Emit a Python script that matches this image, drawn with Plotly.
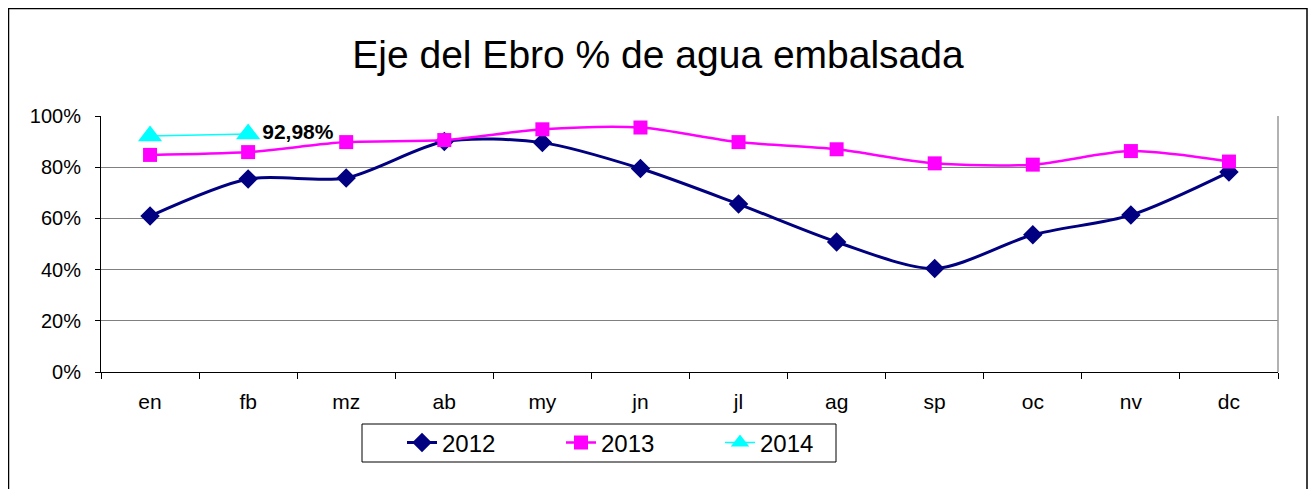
import plotly.graph_objects as go

# Months and reservoir levels (%)
months = ['en', 'fb', 'mz', 'ab', 'my', 'jn', 'jl', 'ag', 'sp', 'oc', 'nv', 'dc']
pct_2012 = [60.9, 75.4, 75.8, 90.0, 89.6, 79.5, 65.6, 50.8, 40.4, 53.6, 61.3, 78.1]
pct_2013 = [84.8, 85.9, 89.8, 90.6, 94.8, 95.5, 89.8, 87.0, 81.5, 81.0, 86.3, 82.2]
pct_2014 = [92.2, 92.98]
labels_2014 = ['', '92,98%']

FONT = 'Liberation Sans, Arial, sans-serif'

# the page body has an 8px margin, so the figure is shrunk and shifted by it
OFF = 8
W, H = 1316 - 2 * OFF, 497 - 2 * OFF
# plot area edges in screenshot px
L, R, T, B = 101, 1278, 116, 372
px_x = lambda p: (p - L) / (R - L)
px_y = lambda p: (B - p) / (B - T)

fig = go.Figure()

fig.add_trace(go.Scatter(
    x=months, y=pct_2012, name='2012', mode='lines+markers',
    line=dict(color='#000080', width=3, shape='spline', smoothing=0.8),
    marker=dict(symbol='diamond', size=15, color='#000080'),
))
fig.add_trace(go.Scatter(
    x=months, y=pct_2013, name='2013', mode='lines+markers',
    line=dict(color='#FF00FF', width=2.5, shape='spline', smoothing=0.8),
    marker=dict(symbol='square', size=14, color='#FF00FF'),
))
fig.add_trace(go.Scatter(
    x=months[:len(pct_2014)], y=pct_2014, name='2014', mode='lines+markers+text',
    line=dict(color='#00FFFF', width=1.5),
    marker=dict(symbol='triangle-up', size=21, color='#00FFFF'),
    text=labels_2014, textposition='middle right',
    textfont=dict(family=FONT, size=21, color='black', weight='bold'),
))

fig.update_layout(
    width=W, height=H,
    margin=dict(l=L - OFF, r=W - (R - OFF), t=T - OFF, b=H - (B - OFF)),
    paper_bgcolor='white', plot_bgcolor='white',
    font=dict(family=FONT, size=21, color='black'),
    title=dict(text='Eje del Ebro % de agua embalsada', x=0.5, xanchor='center',
               y=1 - (54 - OFF) / H, yanchor='middle',
               font=dict(family=FONT, size=39, color='black')),
    showlegend=True,
    legend=dict(orientation='h', x=px_x(402), xanchor='left',
                y=px_y(443), yanchor='middle',
                bgcolor='rgba(0,0,0,0)', borderwidth=0,
                font=dict(family=FONT, size=24),
                entrywidth=114, entrywidthmode='pixels',
                tracegroupgap=0),
    xaxis=dict(type='category', range=[-0.5, 11.5], showgrid=False,
               showline=True, linecolor='black', linewidth=1,
               ticks='outside', tickson='boundaries', ticklen=6,
               tickcolor='black', tickfont=dict(family=FONT, size=21),
               ticklabelstandoff=11),
    yaxis=dict(range=[0, 100], dtick=20, ticksuffix='%',
               showgrid=True, gridcolor='#808080', gridwidth=1,
               showline=True, linecolor='black', linewidth=1,
               ticks='outside', ticklen=5, tickcolor='black',
               tickfont=dict(family=FONT, size=20), zeroline=False,
               ticklabelstandoff=10),
    shapes=[
        # right edge of plot area
        dict(type='line', xref='paper', yref='paper', x0=1, x1=1, y0=0, y1=1,
             line=dict(color='#999999', width=1.5)),
        # legend frame
        dict(type='rect', xref='paper', yref='paper',
             x0=px_x(362), x1=px_x(836), y0=px_y(462), y1=px_y(424),
             line=dict(color='black', width=1)),
        # outer chart frame
        dict(type='rect', xref='paper', yref='paper',
             x0=px_x(8.5), x1=px_x(1307), y0=px_y(530), y1=px_y(8.5),
             line=dict(color='black', width=1.5)),
    ],
)

fig.write_html('out.html')
